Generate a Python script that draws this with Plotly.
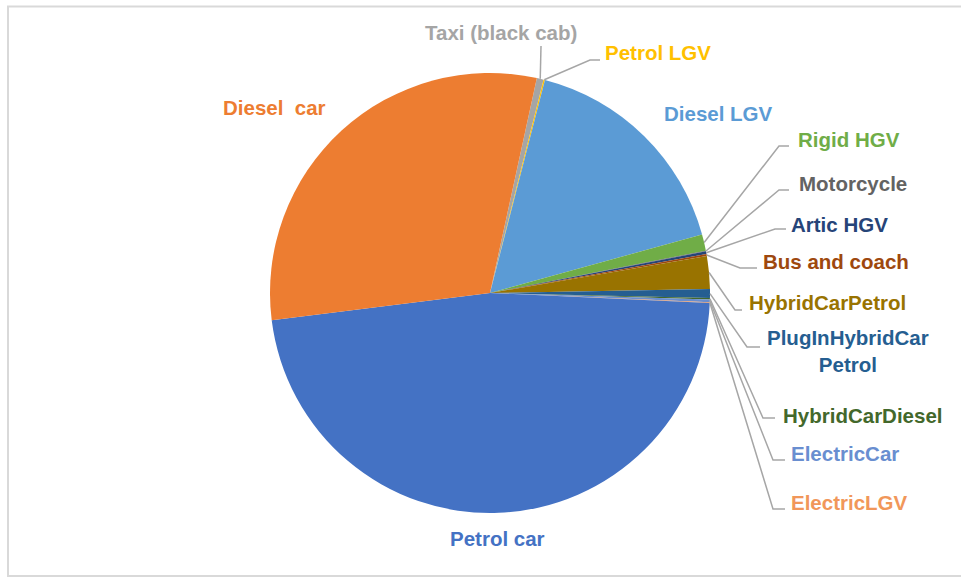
import math
import plotly.graph_objects as go

W, H = 961, 577

categories = ["Taxi (black cab)", "Petrol LGV", "Diesel LGV", "Rigid HGV", "Motorcycle",
              "Artic HGV", "Bus and coach", "HybridCarPetrol", "PlugInHybridCar<br>Petrol",
              "HybridCarDiesel", "ElectricCar", "ElectricLGV", "Petrol car", "Diesel\u00a0 car"]
shares = [0.5, 0.1, 16.7, 1.2, 0.05, 0.2, 0.15, 2.4, 0.65, 0.1, 0.2, 0.05, 47.3, 30.4]
colors = ["#A5A5A5", "#FFC000", "#5B9BD5", "#70AD47", "#636363", "#264478", "#9E480E",
          "#997300", "#255E91", "#43682B", "#698ED0", "#F1975A", "#4472C4", "#ED7D31"]

rotation = 12.3
# pie geometry in pixels
cx, cy, R = 490, 293, 220

def px(x):
    return x / W

def py(y):
    return 1 - y / H

fig = go.Figure(go.Pie(
    labels=categories, values=shares, sort=False, direction="clockwise",
    rotation=rotation, textinfo="none", hoverinfo="label+percent",
    marker=dict(colors=colors, line=dict(width=0)),
    domain=dict(x=[px(cx - R), px(cx + R)], y=[py(cy + R), py(cy - R)]),
    showlegend=False,
))

# label layout: (x, y, anchor, elbow points) in pixels
label_layout = {
    "Taxi (black cab)": (501, 33, "center", [(541, 46)]),
    "Petrol LGV": (603, 52, "left", [(590, 60), (600, 60)]),
    "Diesel LGV": (718, 113, "center", None),
    "Rigid HGV": (796, 140, "left", [(779, 146), (789, 146)]),
    "Motorcycle": (797, 184, "left", [(779, 190), (789, 190)]),
    "Artic HGV": (789, 224, "left", [(775, 229), (786, 229)]),
    "Bus and coach": (761, 262, "left", [(740, 268), (757, 268)]),
    "HybridCarPetrol": (747, 302, "left", [(735, 310), (742, 310)]),
    "PlugInHybridCar<br>Petrol": (765, 351, "left", [(747, 347), (760, 347)]),
    "HybridCarDiesel": (781, 415, "left", [(763, 418), (775, 418)]),
    "ElectricCar": (789, 453, "left", [(773, 460), (785, 460)]),
    "ElectricLGV": (789, 502, "left", [(773, 509), (785, 509)]),
    "Petrol car": (498, 538, "center", None),
    "Diesel\u00a0 car": (274, 107, "center", None),
}

total = sum(shares)
cum = 0.0
shapes = []
annotations = []
for cat, val, col in zip(categories, shares, colors):
    mid = rotation + (cum + val / 2) / total * 360
    cum += val
    lx, ly, anchor, elbows = label_layout[cat]
    annotations.append(dict(
        x=px(lx), y=py(ly), xref="paper", yref="paper", xanchor=anchor, yanchor="middle",
        text="<b>" + cat + "</b>", showarrow=False, align="center",
        font=dict(family="Liberation Sans, Arial", size=20.5, color=col)))
    if elbows:
        a = math.radians(mid)
        sx = cx + R * math.sin(a)
        sy = cy - R * math.cos(a)
        pts = [(sx, sy)] + elbows
        path = "M " + " L ".join(f"{px(x)},{py(y)}" for x, y in pts)
        shapes.append(dict(type="path", xref="paper", yref="paper", path=path,
                           line=dict(color="#A6A6A6", width=1.5)))

# chart-area frame: left, top and bottom edges (right edge lies outside the picture)
frame = (f"M {px(W + 5)},{py(6.5)} L {px(8)},{py(6.5)} "
         f"L {px(8)},{py(576)} L {px(W + 5)},{py(576)}")
shapes.append(dict(type="path", xref="paper", yref="paper", path=frame,
                   line=dict(color="#D9D9D9", width=2)))

fig.update_layout(
    width=W, height=H, margin=dict(l=0, r=0, t=0, b=0),
    paper_bgcolor="white", plot_bgcolor="white",
    shapes=shapes, annotations=annotations,
)

fig.write_html("out.html", config={"displayModeBar": False},
               post_script="document.body.style.margin='0';document.documentElement.style.overflow='hidden';")
